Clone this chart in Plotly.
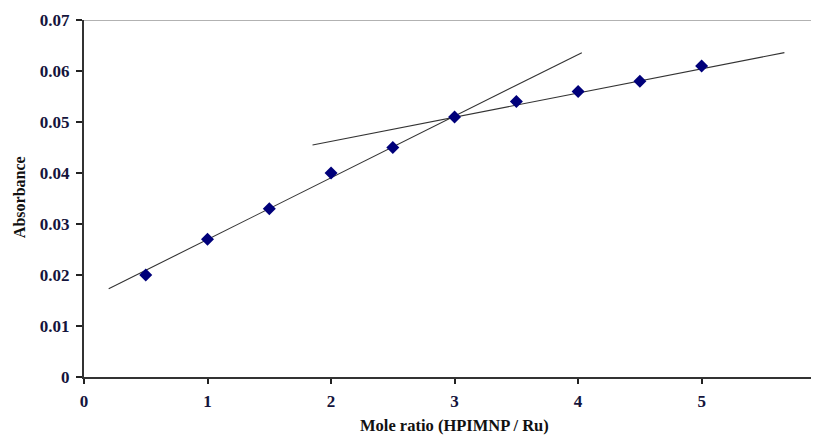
import plotly.graph_objects as go

mole_ratio = [0.5, 1.0, 1.5, 2.0, 2.5, 3.0, 3.5, 4.0, 4.5, 5.0]
absorbance = [0.020, 0.027, 0.033, 0.040, 0.045, 0.051, 0.054, 0.056, 0.058, 0.061]

fit1_x = [0.2, 4.03]
fit1_y = [0.0173, 0.0636]
fit2_x = [1.85, 5.67]
fit2_y = [0.0455, 0.0636]

x_ticks = [0, 1, 2, 3, 4, 5]
y_ticks = [0, 0.01, 0.02, 0.03, 0.04, 0.05, 0.06, 0.07]
y_tick_text = ["0", "0.01", "0.02", "0.03", "0.04", "0.05", "0.06", "0.07"]

font_family = "Liberation Serif"
text_color = "#14143c"

# page body has an 8px margin; the figure is sized to fill the rest of the window
PAGE_OFF = 8
plot_left, plot_right, plot_top, plot_bottom = 84, 819, 20, 376.7
W, H = 819 - PAGE_OFF, 436 - PAGE_OFF
pw = plot_right - plot_left
ph = plot_bottom - plot_top

fig = go.Figure()
for fx, fy in [(fit1_x, fit1_y), (fit2_x, fit2_y)]:
    fig.add_trace(go.Scatter(x=fx, y=fy, mode="lines",
                             line=dict(color="#333333", width=1.1),
                             showlegend=False, hoverinfo="skip"))
fig.add_trace(go.Scatter(x=mole_ratio, y=absorbance, mode="markers",
                         marker=dict(symbol="diamond", size=10, color="#00007a"),
                         showlegend=False))

tick_font = dict(family=font_family, size=17, color=text_color, weight="bold")

fig.update_layout(
    width=W, height=H,
    margin=dict(l=plot_left - PAGE_OFF, r=(819 - plot_right), t=plot_top - PAGE_OFF,
                b=436 - plot_bottom, pad=0),
    paper_bgcolor="white", plot_bgcolor="white",
    font=dict(family=font_family, size=16, color=text_color),
    xaxis=dict(range=[0, 5.95], tickvals=x_ticks, ticks="outside", ticklen=5,
               tickwidth=1.5, tickcolor="#222", showline=True, linecolor="#333",
               linewidth=2, showgrid=False, zeroline=False, automargin=False,
               tickfont=tick_font, ticklabelstandoff=3),
    yaxis=dict(range=[0, 0.07], tickvals=y_ticks, ticktext=y_tick_text,
               ticks="outside", ticklen=6, tickwidth=1.5, tickcolor="#222",
               showline=True, linecolor="#333", linewidth=2,
               showgrid=False, zeroline=False, automargin=False,
               tickfont=tick_font, ticklabelstandoff=3),
    annotations=[
        dict(text="<b>Mole ratio (HPIMNP / Ru)</b>", xref="paper", yref="paper",
             x=(454 - plot_left) / pw, y=-(425.5 - plot_bottom) / ph, showarrow=False,
             xanchor="center", yanchor="middle", borderpad=0,
             font=dict(family=font_family, size=16.5, color="#111")),
        dict(text="<b>Absorbance</b>", xref="paper", yref="paper",
             x=-(plot_left - 19) / pw, y=(plot_bottom - 197) / ph, showarrow=False,
             textangle=-90, xanchor="center", yanchor="middle",
             font=dict(family=font_family, size=16, color="#111")),
    ],
)
fig.add_shape(type="line", xref="paper", yref="y", x0=0, x1=1, y0=0.07, y1=0.07,
              line=dict(color="#999", width=1.5))

fig.write_html("out.html")
